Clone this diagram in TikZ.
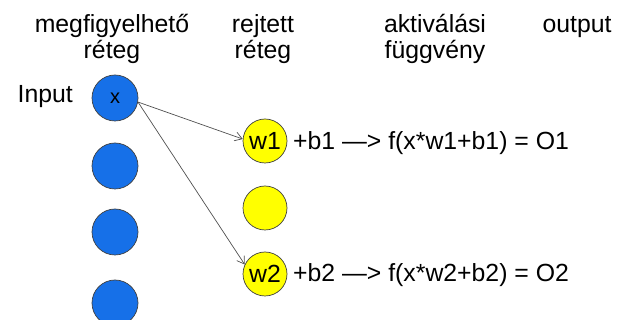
\documentclass[tikz,border=0pt]{standalone}
\usepackage{fontspec}
\setmainfont{Liberation Sans}
\usetikzlibrary{arrows.meta}
\definecolor{inblue}{RGB}{22,112,232}
\definecolor{hidyellow}{RGB}{255,255,0}
\definecolor{linegray}{RGB}{80,80,80}
\begin{document}
\begin{tikzpicture}[x=1pt,y=-1pt,
  lbl/.style={inner sep=0pt,font=\fontsize{24.8}{26}\selectfont},
  head/.style={lbl,align=center,anchor=base},
  bluecirc/.style={circle,draw=black!75,line width=0.7pt,fill=inblue,minimum size=46pt,inner sep=0pt,font=\fontsize{20}{22}\selectfont},
  yelcirc/.style={circle,draw=black!75,line width=0.7pt,fill=hidyellow,minimum size=44pt,inner sep=0pt,font=\fontsize{24.8}{26}\selectfont},
  conn/.style={draw=linegray,line width=0.7pt,-{Straight Barb[length=7pt,width=9pt]}}]
\useasboundingbox (0,0) rectangle (627,320);
% headers (base anchor = baseline of last line)
\node[head] (h1) at (112,59) {megfigyelhető\\réteg};
\node[head] (h2) at (263,59) {rejtett\\réteg};
\node[head] (h3) at (435,59) {aktiválási\\függvény};
\node[head] (h4) at (577,33) {output};
% input label
\node[lbl,anchor=east] (inp) at (73,97) {Input};
% input layer
\node[bluecirc] (x) at (115,98) {x};
\node[bluecirc] (b2) at (115,166) {};
\node[bluecirc] (b3) at (115,232) {};
\node[bluecirc] (b4) at (115,303) {};
% hidden layer
\node[yelcirc] (w1) at (265,141) {w1};
\node[yelcirc] (y2) at (265,208) {};
\node[yelcirc] (w2) at (265,274) {w2};
% formulas
\node[lbl,anchor=west] (f1) at (293,143) {+b1 —> f(x*w1+b1) = O1};
\node[lbl,anchor=west] (f2) at (293,275) {+b2 —> f(x*w2+b2) = O2};
% connectors
\draw[conn] (x.-10) -- (w1.175);
\draw[conn] (x.-10) -- (w2.155);
\end{tikzpicture}
\end{document}
